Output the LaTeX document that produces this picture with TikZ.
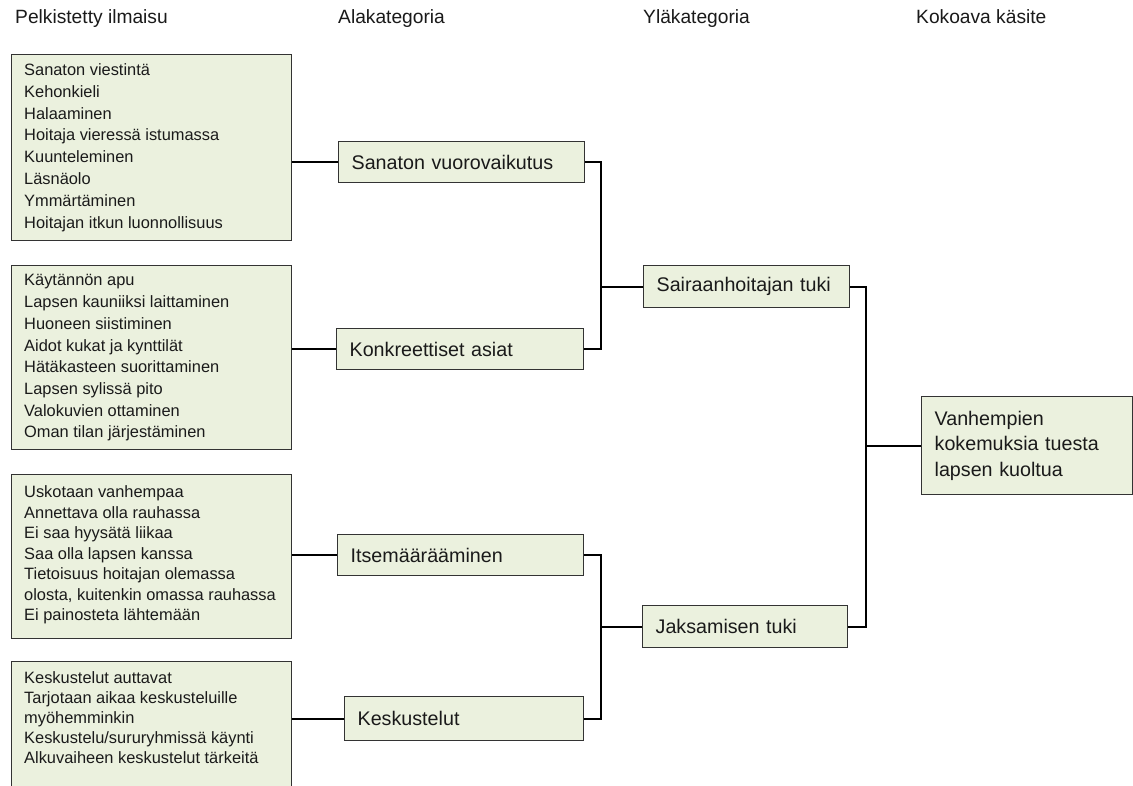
\documentclass[tikz,border=0pt]{standalone}
\usepackage{fontspec}
\setmainfont{Liberation Sans}
\definecolor{boxfill}{HTML}{EBF1DE}
\definecolor{boxdraw}{HTML}{333333}
\definecolor{txt}{HTML}{1A1A1A}
\tikzset{
  hdr/.style={anchor=base west, inner sep=0pt, text=txt, font=\fontsize{19.2}{23}\selectfont},
  lbox/.style={draw=boxdraw, fill=boxfill, line width=1.3pt, anchor=north west, inner sep=0pt},
  ltext/.style={anchor=west, inner sep=0pt, align=left, text=txt},
  mbox/.style={draw=boxdraw, fill=boxfill, line width=1.3pt, anchor=north west, inner ysep=0pt,
    inner xsep=13pt, align=left, text=txt, font=\fontsize{19.7}{25.5}\selectfont},
  conn/.style={line width=2pt, black},
}
\begin{document}
\begin{tikzpicture}[x=1pt,y=-1pt]
\useasboundingbox (0,0) rectangle (1133,785);
\fill[white] (0,0) rectangle (1133,785);

% headers
\node[hdr] (h1) at (15,23) {Pelkistetty ilmaisu};
\node[hdr] (h2) at (338,23) {Alakategoria};
\node[hdr] (h3) at (643,23) {Yläkategoria};
\node[hdr] (h4) at (916,23) {Kokoava käsite};

% left boxes
\node[lbox, minimum width=280pt, minimum height=186pt] (p1) at (11,54) {};
\node[ltext, font=\fontsize{16.4}{21.8}\selectfont] (p1t) at (24,147.5) {Sanaton viestintä\\Kehonkieli\\Halaaminen\\Hoitaja vieressä istumassa\\Kuunteleminen\\Läsnäolo\\Ymmärtäminen\\Hoitajan itkun luonnollisuus};

\node[lbox, minimum width=280pt, minimum height=184pt] (p2) at (11,265) {};
\node[ltext, font=\fontsize{16.4}{21.7}\selectfont] (p2t) at (24,358) {Käytännön apu\\Lapsen kauniiksi laittaminen\\Huoneen siistiminen\\Aidot kukat ja kynttilät\\Hätäkasteen suorittaminen\\Lapsen sylissä pito\\Valokuvien ottaminen\\Oman tilan järjestäminen};

\node[lbox, minimum width=280pt, minimum height=164pt] (p3) at (11,474) {};
\node[ltext, font=\fontsize{16.4}{20.5}\selectfont] (p3t) at (24,555) {Uskotaan vanhempaa\\Annettava olla rauhassa\\Ei saa hyysätä liikaa\\Saa olla lapsen kanssa\\Tietoisuus hoitajan olemassa\\olosta, kuitenkin omassa rauhassa\\Ei painosteta lähtemään};

\node[lbox, minimum width=280pt, minimum height=140pt] (p4) at (11,661) {};
\node[ltext, font=\fontsize{16.4}{20}\selectfont] (p4t) at (24,718) {Keskustelut auttavat\\Tarjotaan aikaa keskusteluille\\myöhemminkin\\Keskustelu/sururyhmissä käynti\\Alkuvaiheen keskustelut tärkeitä};

% sub-categories
\node[mbox, text width=220pt, minimum height=41pt] (s1) at (338,141) {Sanaton vuorovaikutus};
\node[mbox, text width=221pt, minimum height=41pt] (s2) at (336,328) {Konkreettiset asiat};
\node[mbox, text width=220pt, minimum height=41pt] (s3) at (337,534) {Itsemääräämi\-nen};
\node[mbox, text width=213pt, minimum height=44pt] (s4) at (344,696) {Keskustelut};

% upper categories
\node[mbox, text width=180pt, minimum height=42pt] (y1) at (643,265) {Sairaanhoitajan tuki};
\node[mbox, text width=179pt, minimum height=42pt] (y2) at (642,605) {Jaksamisen tuki};

% main concept
\node[mbox, text width=185pt, minimum height=98pt] (f) at (921,396) {Vanhempien\\kokemuksia tuesta\\lapsen kuoltua};

\coordinate (bx1) at (601,0);
\coordinate (bx2) at (866,0);

% connectors left -> sub
\draw[conn] (s1.west) -- (s1.west -| p1.east);
\draw[conn] (s2.west) -- (s2.west -| p2.east);
\draw[conn] (s3.west) -- (s3.west -| p3.east);
\draw[conn] (s4.west) -- (s4.west -| p4.east);

% brackets sub -> upper
\draw[conn] (s1.east) -- (s1.east -| bx1) -- (s2.east -| bx1) -- (s2.east);
\draw[conn] (y1.west) -- (y1.west -| bx1);
\draw[conn] (s3.east) -- (s3.east -| bx1) -- (s4.east -| bx1) -- (s4.east);
\draw[conn] (y2.west) -- (y2.west -| bx1);

% bracket upper -> main
\draw[conn] (y1.east) -- (y1.east -| bx2) -- (y2.east -| bx2) -- (y2.east);
\draw[conn] (f.west) -- (f.west -| bx2);
\end{tikzpicture}
\end{document}
